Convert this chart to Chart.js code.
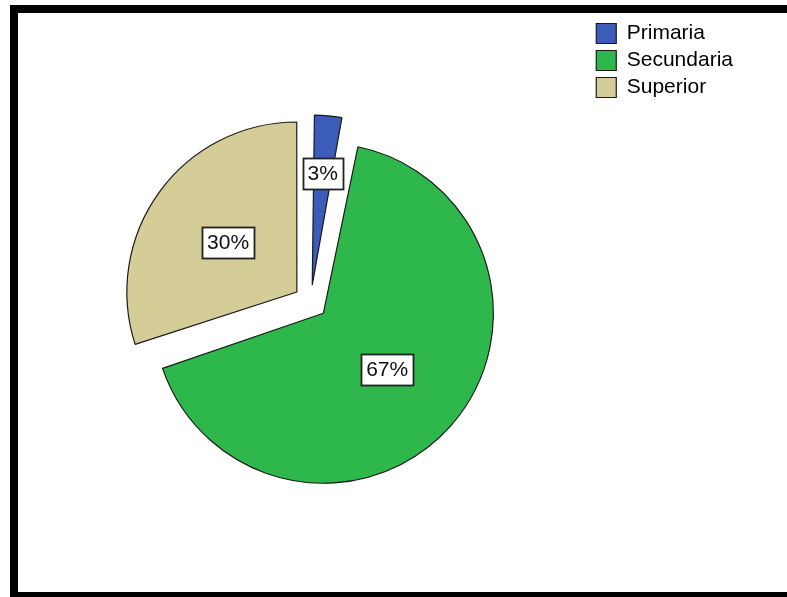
<!doctype html>
<html lang="es">
<head>
  <meta charset="utf-8" />
  <title>Nivel de estudios</title>
  <script src="https://cdn.jsdelivr.net/npm/chart.js"></script>
  <style>
    html, body { margin: 0; padding: 0; background: #fff; overflow: hidden; }
    .frame {
      position: absolute; left: 10px; top: 5px;
      width: 800px; height: 579px;
      border-top: 8px solid #000;
      border-left: 8px solid #000;
      border-bottom: 8px solid #000;
    }
    .frame canvas { display: block; }
  </style>
</head>
<body>
  <div class="frame">
    <canvas id="estudiosChart" width="769" height="579"></canvas>
  </div>

<script>
  // Nivel de estudios (%)
  const categories = ['Primaria', 'Secundaria', 'Superior'];
  const percentages = [3, 67, 30];

  const sliceColors = ['#3b5cb8', '#2eb84c', '#d5cd98'];
  const labelFont = '21px "Liberation Sans", Arial, sans-serif';

  // Chart.js enlarges exploded arcs by (offset/4) * (1 - sin(circumference));
  // take that back off so all slices keep the same radius
  const evenRadius = {
    id: 'evenRadius',
    afterDatasetUpdate(chart, args) {
      args.meta.data.forEach(arc => {
        const shift = (arc.options.offset || 0) / 4;
        const fix = 1 - Math.sin(Math.min(Math.PI, arc.circumference));
        arc.outerRadius = args.meta.controller.outerRadius - shift * fix;
      });
    }
  };

  // white boxed percentage inside each slice
  const sliceLabels = {
    id: 'sliceLabels',
    afterDatasetsDraw(chart) {
      const ctx = chart.ctx;
      const meta = chart.getDatasetMeta(0);
      const radius = meta.controller.outerRadius;
      ctx.save();
      ctx.font = labelFont;
      ctx.textAlign = 'center';
      ctx.textBaseline = 'middle';
      meta.data.forEach((arc, i) => {
        const p = arc.getProps(['x', 'y', 'startAngle', 'endAngle'], true);
        const mid = (p.startAngle + p.endAngle) / 2;
        // arcs are shifted by offset / 4 when drawn
        const shift = (arc.options.offset || 0) / 4;
        // thin slices get their label pushed outwards
        const narrow = (p.endAngle - p.startAngle) < 0.4;
        const dist = shift + radius * (narrow ? 0.66 : 0.5);
        const cx = p.x + Math.cos(mid) * dist;
        const cy = p.y + Math.sin(mid) * dist;
        const text = percentages[i] + '%';
        const w = Math.round(ctx.measureText(text).width + 10);
        const h = 31;
        const bx = Math.round(cx - w / 2) + 0.5;
        const by = Math.round(cy - h / 2) + 0.5;
        ctx.fillStyle = '#fff';
        ctx.fillRect(bx, by, w, h);
        ctx.strokeStyle = '#222';
        ctx.lineWidth = 1.8;
        ctx.strokeRect(bx, by, w, h);
        ctx.fillStyle = '#111';
        ctx.fillText(text, cx, cy + 1);
      });
      ctx.restore();
    }
  };

  const ctx = document.getElementById('estudiosChart').getContext('2d');
  const estudiosChart = new Chart(ctx, {
    type: 'pie',
    data: {
      labels: categories,
      datasets: [{
        data: percentages,
        backgroundColor: sliceColors,
        borderColor: '#1a1a1a',
        borderWidth: 1.2,
        offset: 68
      }]
    },
    options: {
      responsive: false,
      animation: false,
      radius: 170,
      layout: {
        padding: { left: 13, right: 44, top: 4, bottom: 5 }
      },
      plugins: {
        tooltip: { enabled: false },
        legend: {
          position: 'right',
          align: 'start',
          labels: {
            boxWidth: 20,
            boxHeight: 20,
            padding: 6,
            color: '#000',
            font: { size: 21, family: '"Liberation Sans", Arial, sans-serif' }
          }
        }
      }
    },
    plugins: [evenRadius, sliceLabels]
  });
</script>
</body>
</html>
